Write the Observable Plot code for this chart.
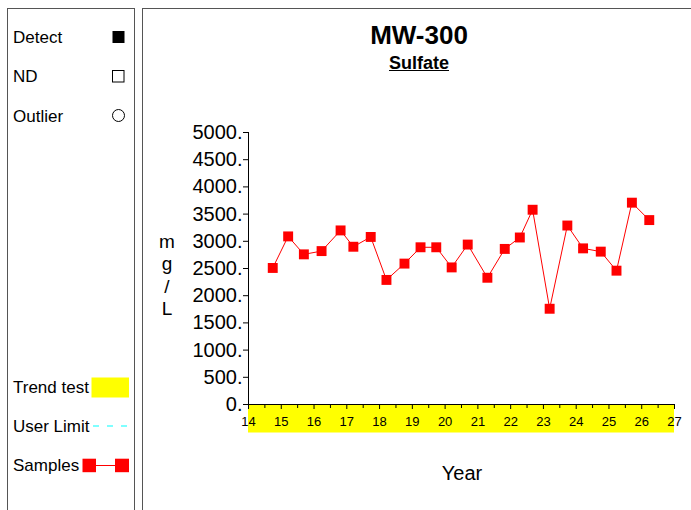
<!DOCTYPE html>
<html>
<head>
<meta charset="utf-8">
<script src="https://cdn.jsdelivr.net/npm/d3@7"></script>
<script src="https://cdn.jsdelivr.net/npm/@observablehq/plot@0.6"></script>
<style>
  body { margin: 0; background: #fff; font-family: "Liberation Sans", Arial, sans-serif; }
  #wrap { position: relative; width: 691px; height: 510px; overflow: hidden; background: #fff; }
  .abs { position: absolute; white-space: nowrap; }
  .panel { position: absolute; border: 1.5px solid #555; box-sizing: border-box; }
</style>
</head>
<body>
<div id="wrap">
  <div class="panel" style="left:7px; top:8px; width:128px; height:560px;"></div>
  <div class="panel" style="left:142px; top:8px; width:600px; height:560px;"></div>
  <div id="plot" class="abs" style="left:0; top:0;"></div>
  <svg id="legendsvg" class="abs" style="left:0; top:0;" width="140" height="510"></svg>
</div>
<script>
// ---- data ----
const title = "MW-300";
const subtitle = "Sulfate";
const yLabel = ["m", "g", "/", "L"];
const xLabel = "Year";
const years = [14.74, 15.21, 15.69, 16.23, 16.81, 17.2, 17.73, 18.21, 18.76, 19.25, 19.73, 20.2, 20.69, 21.29, 21.82, 22.28, 22.67, 23.19, 23.73, 24.21, 24.75, 25.23, 25.7, 26.23];
const sulfate = [2510, 3090, 2760, 2820, 3200, 2900, 3080, 2290, 2590, 2890, 2890, 2520, 2940, 2330, 2860, 3070, 3580, 1760, 3290, 2870, 2810, 2460, 3710, 3390];
const yTicks = [0, 500, 1000, 1500, 2000, 2500, 3000, 3500, 4000, 4500, 5000];
const xTicks = [14, 15, 16, 17, 18, 19, 20, 21, 22, 23, 24, 25, 26, 27];
const xMinorTicks = [14.5, 15.5, 16.5, 17.5, 18.5, 19.5, 20.5, 21.5, 22.5, 23.5, 24.5, 25.5, 26.5];
const trendRange = [{start: 14, end: 27}];
const legendItems = ["Detect", "ND", "Outlier", "Trend test", "User Limit", "Samples"];

const samples = years.map((y, i) => ({year: y, value: sulfate[i]}));
const font = '"Liberation Sans", Arial, sans-serif';

const chart = Plot.plot({
  width: 691,
  height: 510,
  marginLeft: 248,
  marginRight: 17,
  marginTop: 132,
  marginBottom: 106,
  style: {fontFamily: font, background: "transparent", overflow: "visible", color: "#000"},
  x: {domain: [14, 27]},
  y: {domain: [0, 5000]},
  marks: [
    Plot.ruleY(trendRange, {y: () => 0, x1: "start", x2: "end", stroke: "#ffff00", strokeWidth: 28, dy: 14}),
    Plot.axisY({ticks: yTicks, tickFormat: d => d + ".", tickSize: 5, tickPadding: 1, fontSize: 20, label: null, stroke: "#000"}),
    Plot.axisX({ticks: xTicks, tickFormat: d => String(d), tickSize: 5, tickPadding: 7, fontSize: 13, label: null, stroke: "#000"}),
    Plot.axisX({ticks: xMinorTicks, tickFormat: null, tickSize: 4, label: null, stroke: "#000", text: null}),
    Plot.ruleX([14], {stroke: "#000"}),
    Plot.ruleY([0], {x1: 14, x2: 27, stroke: "#000"}),
    Plot.line(samples, {x: "year", y: "value", stroke: "#ff0000", strokeWidth: 1}),
    Plot.dot(samples, {x: "year", y: "value", symbol: "square", r: 5.6, fill: "#ff0000", stroke: "none"})
  ]
});
document.getElementById("plot").appendChild(chart);

// ---- titles & labels ----
const wrap = document.getElementById("wrap");
function addText(txt, css) {
  const d = document.createElement("div");
  d.className = "abs";
  d.textContent = txt;
  Object.assign(d.style, css);
  wrap.appendChild(d);
  return d;
}
addText(title, {left: "419px", top: "22px", transform: "translateX(-50%)", fontSize: "26px", fontWeight: "bold", lineHeight: "1"});
addText(subtitle, {left: "419px", top: "54px", transform: "translateX(-50%)", fontSize: "18px", fontWeight: "bold", textDecoration: "underline", lineHeight: "1"});
const yBase = [246.7, 268.5, 292, 314.3];
yLabel.forEach((c, i) => addText(c, {left: "167px", top: (yBase[i] - 15) + "px", transform: "translateX(-50%)", fontSize: "19px", lineHeight: "1"}));
addText(xLabel, {left: "462px", top: "463px", transform: "translateX(-50%)", fontSize: "20px", lineHeight: "1"});

// ---- legend ----
const legBase = [42.7, 82, 121.7, 393.3, 431.7, 471];
legendItems.forEach((t, i) => {
  addText(t, {left: "13px", top: (legBase[i] - 14) + "px", fontSize: "17px", lineHeight: "1"});
});
const lsvg = d3.select("#legendsvg");
lsvg.append("rect").attr("x", 112.5).attr("y", 31).attr("width", 12).attr("height", 12).attr("fill", "#000");
lsvg.append("rect").attr("x", 112.5).attr("y", 70.5).attr("width", 11.5).attr("height", 11.5).attr("fill", "none").attr("stroke", "#000").attr("stroke-width", 1);
lsvg.append("circle").attr("cx", 118.5).attr("cy", 115.5).attr("r", 6).attr("fill", "none").attr("stroke", "#000").attr("stroke-width", 1);
lsvg.append("rect").attr("x", 91.5).attr("y", 377.5).attr("width", 37.5).attr("height", 20).attr("fill", "#ffff00");
lsvg.append("line").attr("x1", 93).attr("x2", 129).attr("y1", 426).attr("y2", 426).attr("stroke", "#00ffff").attr("stroke-width", 1.2).attr("stroke-dasharray", "6,8");
lsvg.append("line").attr("x1", 89).attr("x2", 122).attr("y1", 465.5).attr("y2", 465.5).attr("stroke", "#ff0000").attr("stroke-width", 1);
lsvg.append("rect").attr("x", 82.5).attr("y", 458.7).attr("width", 13.5).attr("height", 13.5).attr("fill", "#ff0000");
lsvg.append("rect").attr("x", 115).attr("y", 458.7).attr("width", 14).attr("height", 13.5).attr("fill", "#ff0000");
</script>
</body>
</html>
